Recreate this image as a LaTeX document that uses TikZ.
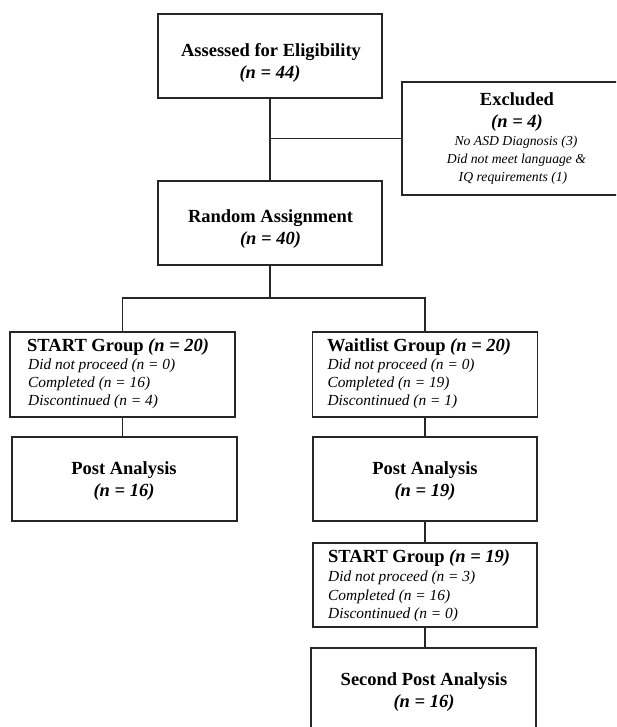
\documentclass[tikz,border=0pt]{standalone}
\usepackage{fontspec}
\setmainfont{Liberation Serif}
\begin{document}
\begin{tikzpicture}[x=1pt,y=-1pt,
  box/.style={draw=black!85, line width=1.4pt, rectangle, inner sep=0pt, outer sep=0pt},
  conn/.style={draw=black!85, line width=1.4pt},
  bc/.style={font=\fontsize{18.5}{22}\selectfont\bfseries, inner sep=0pt, anchor=base},
  bl/.style={font=\fontsize{18.5}{22}\selectfont\bfseries, inner sep=0pt, anchor=base west},
  il/.style={font=\fontsize{15.4}{18}\selectfont\itshape, inner sep=0pt, anchor=base west},
  ic/.style={font=\fontsize{13.7}{17}\selectfont\itshape, inner sep=0pt, anchor=base}]
\useasboundingbox (0,0) rectangle (616,727);
\fill[white] (0,0) rectangle (616,727);
\begin{scope}
\clip (0,0) rectangle (616,727);
% boxes
\node[box, minimum width=224pt, minimum height=84pt] (assess) at (270,56) {};
\node[box, minimum width=228pt, minimum height=113pt] (excl) at (516,138.5) {};
\node[box, minimum width=224pt, minimum height=84pt] (random) at (270,223) {};
\node[box, minimum width=225pt, minimum height=85pt] (start) at (122.5,374.5) {};
\node[box, minimum width=225pt, minimum height=85pt] (wait) at (425,374.5) {};
\node[box, minimum width=225pt, minimum height=84pt] (pa1) at (124.5,479) {};
\node[box, minimum width=224pt, minimum height=84pt] (pa2) at (425,479) {};
\node[box, minimum width=224pt, minimum height=84pt] (start2) at (425,585) {};
\node[box, minimum width=225pt, minimum height=88pt] (pa3) at (423.5,692) {};
% texts
\node[bc] (t1) at (271,57) {Assessed for Eligibility};
\node[bc] (t2) at (270,78.5) {\textit{(n = 44)}};
\node[bc] (t3) at (517,106) {Excluded};
\node[bc] (t4) at (517,127.3) {\textit{(n = 4)}};
\node[ic] (t5) at (516,146) {No ASD Diagnosis (3)};
\node[ic] (t6) at (516.5,163.5) {Did not meet language \&};
\node[ic] (t7) at (513,181.5) {IQ requirements (1)};
\node[bc] (t8) at (270.5,222.7) {Random Assignment};
\node[bc] (t9) at (270.5,244) {\textit{(n = 40)}};
\node[bl] (t10) at (27,351.7) {START Group \textit{(n = 20)}};
\node[il] (t11) at (28,369.3) {Did not proceed (n = 0)};
\node[il] (t12) at (28,387) {Completed (n = 16)};
\node[il] (t13) at (28,405) {Discontinued (n = 4)};
\node[bl] (t14) at (327,351.7) {Waitlist Group \textit{(n = 20)}};
\node[il] (t15) at (327.3,369.3) {Did not proceed (n = 0)};
\node[il] (t16) at (327.3,387) {Completed (n = 19)};
\node[il] (t17) at (327.3,405) {Discontinued (n = 1)};
\node[bc] (t18) at (124,474.3) {Post Analysis};
\node[bc] (t19) at (124,496) {\textit{(n = 16)}};
\node[bc] (t20) at (425,474.3) {Post Analysis};
\node[bc] (t21) at (425,496) {\textit{(n = 19)}};
\node[bl] (t22) at (328,562.7) {START Group \textit{(n = 19)}};
\node[il] (t23) at (328,581.7) {Did not proceed (n = 3)};
\node[il] (t24) at (328,600) {Completed (n = 16)};
\node[il] (t25) at (328,618.3) {Discontinued (n = 0)};
\node[bc] (t26) at (424,685.7) {Second Post Analysis};
\node[bc] (t27) at (424,707.3) {\textit{(n = 16)}};
% connectors
\coordinate (j1) at (assess.south |- excl.west);
\coordinate (j2) at (270,298);
\draw[conn] (assess.south) -- (random.north);
\draw[conn] (j1) -- (excl.west);
\draw[conn] (random.south) -- (j2);
\draw[conn] (start.north) |- (j2) -| (wait.north);
\draw[conn] (start.south) -- (start.south |- pa1.north);
\draw[conn] (wait.south) -- (wait.south |- pa2.north);
\draw[conn] (pa2.south) -- (pa2.south |- start2.north);
\draw[conn] (start2.south) -- (start2.south |- pa3.north);
\end{scope}
\end{tikzpicture}
\end{document}
